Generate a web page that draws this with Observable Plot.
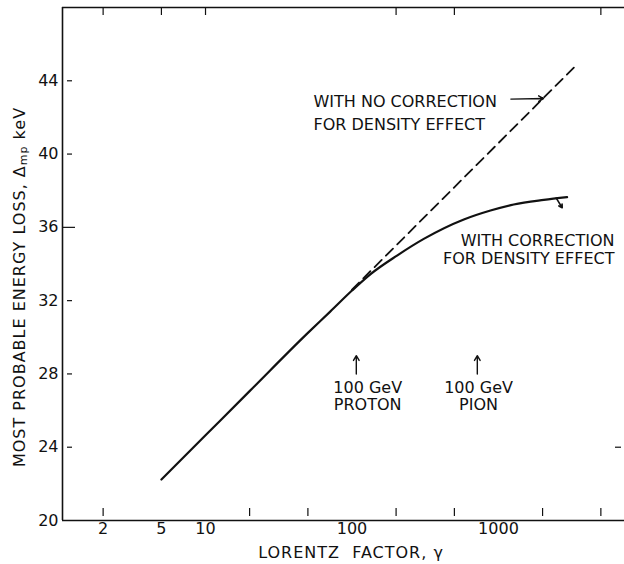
<!DOCTYPE html>
<html><head><meta charset="utf-8">
<script src="https://cdn.jsdelivr.net/npm/d3@7"></script>
<script src="https://cdn.jsdelivr.net/npm/@observablehq/plot@0.6"></script>
<style>
body{margin:0;background:#fff;}
#chart{position:relative;width:624px;height:564px;}
</style></head><body><div id="chart"></div>
<script>
// ---- data ----
const gammaCorrected = [5, 10, 20, 50, 71, 100, 134, 203, 309, 580, 882, 1271, 2040, 2940];
const lossCorrected  = [22.24, 24.65, 27.06, 30.24, 31.40, 32.55, 33.45, 34.46, 35.37, 36.43, 36.92, 37.25, 37.5, 37.65];
const gammaUncorrected = [100, 3270];
const lossUncorrected  = [32.6, 44.72];

const xTickLabels = [2, 5, 10, 100, 1000];
const yTickLabels = [20, 24, 28, 32, 36, 40, 44];
const yShortTicks = [24, 28, 32, 40, 44];
const yLongTicks = [36];
const yRightTicks = [24];
const bottomTickMarks = [2, 20, 50, 200, 500, 2000, 5000];
const topTickMarks = [2, 5, 10, 200, 500, 5000];

const particleGamma = [107, 717];
const particleTextGamma = [128, 731];
const particleLabels = ["100 GeV\nPROTON", "100 GeV\nPION"];

const noCorrLabel = "WITH NO CORRECTION\nFOR DENSITY EFFECT";
const corrLabel = "WITH CORRECTION\nFOR DENSITY EFFECT";
const xTitle = "LORENTZ  FACTOR, γ";

const xDomain = [1.056, 7250];
const yDomain = [20, 48];

// tables built from the arrays
const corrected = gammaCorrected.map((g, i) => ({g, v: lossCorrected[i]}));
const uncorrected = gammaUncorrected.map((g, i) => ({g, v: lossUncorrected[i]}));
const particles = particleGamma.map((g, i) => ({g, tg: particleTextGamma[i], label: particleLabels[i]}));

const font = "DejaVu Sans, sans-serif";

const chart = Plot.plot({
  width: 624,
  height: 564,
  marginLeft: 62,
  marginRight: 0,
  marginTop: 7,
  marginBottom: 44,
  style: {fontFamily: font, fontSize: "16px", background: "#fff", color: "#111"},
  x: {type: "log", domain: xDomain, axis: null},
  y: {domain: yDomain, axis: null},
  marks: [
    // frame lines
    Plot.ruleX([xDomain[0]], {stroke: "#111", strokeWidth: 1.6}),
    Plot.ruleY([yDomain[0]], {stroke: "#111", strokeWidth: 1.4}),
    Plot.ruleY([yDomain[1]], {stroke: "#111", strokeWidth: 1.3}),
    // tick marks
    Plot.tickY(yShortTicks, {y: d => d, insetLeft: 5, insetRight: 552, stroke: "#111", strokeWidth: 1.2}),
    Plot.tickY(yLongTicks, {y: d => d, insetLeft: 0, insetRight: 549, stroke: "#111", strokeWidth: 1.2}),
    Plot.tickY(yRightTicks, {y: d => d, insetLeft: 553, insetRight: 3, stroke: "#111", strokeWidth: 1.2}),
    Plot.tickX(bottomTickMarks, {x: d => d, insetTop: 501, insetBottom: 4, stroke: "#111", strokeWidth: 1.2}),
    Plot.tickX(topTickMarks, {x: d => d, insetTop: 0, insetBottom: 505, stroke: "#111", strokeWidth: 1.2}),
    // tick labels
    Plot.text(xTickLabels, {x: d => d, frameAnchor: "bottom", dy: 13, text: d => String(d), fontSize: 16, fill: "#111"}),
    Plot.text(yTickLabels, {y: d => d, frameAnchor: "left", dx: -4, textAnchor: "end", text: d => String(d), fontSize: 16, fill: "#111"}),
    // curves
    Plot.line(uncorrected, {x: "g", y: "v", stroke: "#111", strokeWidth: 1.8, strokeDasharray: "10,6"}),
    Plot.line(corrected, {x: "g", y: "v", stroke: "#111", strokeWidth: 2.2, curve: "monotone-x"}),
    // annotations
    Plot.text([noCorrLabel], {x: 54.6, y: 42.34, text: d => d, textAnchor: "start", lineHeight: 1.45, fontSize: 16, fill: "#111"}),
    Plot.arrow([noCorrLabel], {x1: 1215, y1: 43.0, x2: 2030, y2: 43.03, stroke: "#111", strokeWidth: 1.4, headLength: 6}),
    Plot.text([corrLabel], {x: 6190, y: 34.79, text: d => d, textAnchor: "end", lineHeight: 1.1, fontSize: 16, fill: "#111"}),
    Plot.arrow([corrLabel], {x1: 2480, y1: 37.6, x2: 2723, y2: 37.07, stroke: "#111", strokeWidth: 1.6, headLength: 5}),
    Plot.arrow(particles, {x1: "g", y1: 28.0, x2: "g", y2: 29.0, stroke: "#111", strokeWidth: 1.4, headLength: 6}),
    Plot.text(particles, {x: "tg", y: 26.8, text: "label", textAnchor: "middle", lineHeight: 1.07, fontSize: 16, fill: "#111"})
  ]
});

document.getElementById("chart").appendChild(chart);

// axis titles
const svg = d3.select(chart);
svg.append("text")
  .attr("x", 351).attr("y", 553)
  .attr("text-anchor", "middle").attr("dominant-baseline", "middle")
  .style("white-space", "pre")
  .attr("font-size", 16).attr("letter-spacing", 1).attr("fill", "#111")
  .attr("font-family", font)
  .text(xTitle);

const yt = svg.append("text")
  .attr("transform", "translate(20,287) rotate(-90)")
  .attr("text-anchor", "middle").attr("dominant-baseline", "middle")
  .attr("font-size", 16).attr("letter-spacing", 1).attr("fill", "#111")
  .attr("font-family", font);
yt.append("tspan").text("MOST PROBABLE ENERGY LOSS, Δ");
yt.append("tspan").attr("font-size", 11).attr("dy", 4).text("mp");
yt.append("tspan").attr("dy", -4).text(" keV");
</script>
</body></html>
